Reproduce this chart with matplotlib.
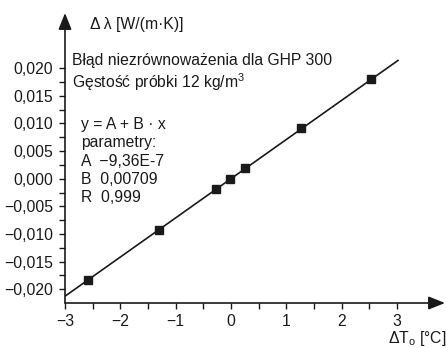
import matplotlib
matplotlib.use("Agg")
import matplotlib.pyplot as plt
import numpy as np

plt.rcParams['font.family'] = ['Liberation Sans', 'DejaVu Sans']
plt.rcParams['mathtext.fontset'] = 'custom'
plt.rcParams['mathtext.rm'] = 'Liberation Sans'
plt.rcParams['mathtext.it'] = 'Liberation Sans:italic'

# data
dT = [-2.58, -1.30, -0.27, -0.01, 0.25, 1.27, 2.53]
dlam = [-0.0184, -0.0093, -0.0019, 0.0000, 0.0020, 0.0092, 0.0181]
fit_A = -9.36e-7
fit_B = 0.00709
fit_x = [-3.0, 3.02]

xticks = [-3, -2, -1, 0, 1, 2, 3]
xtick_labels = ['\u22123', '\u22122', '\u22121', '0', '1', '2', '3']
yticks = [-0.020, -0.015, -0.010, -0.005, 0.000, 0.005, 0.010, 0.015, 0.020]
ytick_labels = ['\u22120,020', '\u22120,015', '\u22120,010', '\u22120,005', '0,000',
                '0,005', '0,010', '0,015', '0,020']

W, H = 446, 348
FS = 11.3
fig = plt.figure(figsize=(W / 100, H / 100), dpi=100)
ax = fig.add_axes([65 / W, 45 / H, (445 - 65) / W, (348 - 13 - 45) / H])
ax.set_xlim(-3, 3.87)
ax.set_ylim(-0.0225, 0.03)
for s in ax.spines.values():
    s.set_visible(False)

col = '#1a1a1a'
fx = np.array(fit_x)
ax.plot(fx, fit_A + fit_B * fx, color=col, lw=1.2, zorder=2)
ax.plot(dT, dlam, 's', color=col, ms=5.5, zorder=3)

ax.set_xticks(xticks)
ax.set_xticklabels(xtick_labels)
ax.set_xticks([-2.5, -1.5, -0.5, 0.5, 1.5, 2.5], minor=True)
ax.set_yticks(yticks)
ax.set_yticklabels(ytick_labels)
ax.set_yticks([-0.0175, -0.0125, -0.0075, -0.0025, 0.0025, 0.0075, 0.0125, 0.0175], minor=True)
ax.tick_params(axis='both', which='both', direction='out', length=4.3, width=1.0,
               color=col, labelsize=FS, labelcolor=col)
ax.tick_params(axis='x', which='major', pad=3.5)
ax.tick_params(axis='y', which='major', pad=4)

arrow = dict(arrowstyle='-|>,head_length=1.0,head_width=0.4', lw=1.2, color=col,
             shrinkA=0, shrinkB=0, mutation_scale=10)
ax.annotate('', xy=(1, 0), xytext=(0, 0), xycoords='axes fraction', arrowprops=arrow)
ax.annotate('', xy=(0, 1), xytext=(0, 0), xycoords='axes fraction', arrowprops=arrow)

def ftext(x, y, s, **kw):
    fig.text(x / W, 1 - y / H, s, va='center', color=col, fontsize=FS, **kw)

ftext(90, 24, '\u0394\u2009\u03bb [W/(m\u00b7K)]')
ftext(72, 61, 'Błąd niezrównoważenia dla GHP 300')
ftext(72, 82, 'Gęstość próbki 12 kg/m$^{3}$')
ftext(81, 124, 'y = A + B \u00b7 x')
ftext(81, 143, 'parametry:')
ftext(81, 162, 'A  \u22129,36E-7')
ftext(81, 180, 'B  0,00709')
ftext(81, 197, 'R  0,999')
ftext(388, 338, r'$\Delta$T$_{\rm o}$ [°C]')

fig.savefig('out.png', dpi=100)
